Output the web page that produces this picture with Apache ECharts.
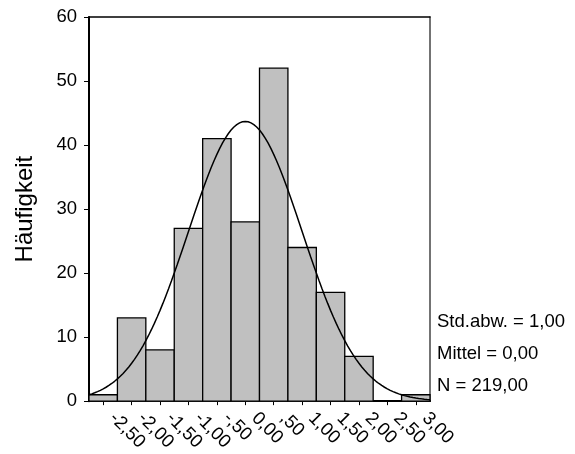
<!DOCTYPE html>
<html>
<head>
<meta charset="utf-8">
<script src="https://cdn.jsdelivr.net/npm/echarts@6/dist/echarts.min.js"></script>
<style>
  html, body { margin: 0; padding: 0; background: #fff; }
  #chart { width: 575px; height: 454px; }
</style>
</head>
<body>
<div id="chart"></div>
<script>
// Histogram bins (centre of each 0.5-wide class) and their frequencies
const binCenters = [-2.5, -2.0, -1.5, -1.0, -0.5, 0.0, 0.5, 1.0, 1.5, 2.0, 2.5, 3.0];
const counts = [1, 13, 8, 27, 41, 28, 52, 24, 17, 7, 0, 1];
const tickLabels = ['-2,50', '-2,00', '-1,50', '-1,00', '-,50', '0,00', ',50', '1,00', '1,50', '2,00', '2,50', '3,00'];
const yTicks = [0, 10, 20, 30, 40, 50, 60];

// Summary statistics shown beside the plot
const stdDev = 1.0;
const mean = 0.0;
const total = 219;
const binWidth = 0.5;

const xMin = binCenters[0] - binWidth / 2;
const xMax = binCenters[binCenters.length - 1] + binWidth / 2;

// Fitted normal curve scaled to frequencies, from the stated mean / std / N
const curve = [];
for (let i = 0; i <= 120; i++) {
  const x = xMin + (xMax - xMin) * i / 120;
  const z = (x - mean) / stdDev;
  const dens = Math.exp(-0.5 * z * z) / (stdDev * Math.sqrt(2 * Math.PI));
  curve.push([x, total * binWidth * dens]);
}

const fmt = v => v.toFixed(2).replace('.', ',');
const FONT = "'Liberation Sans', Arial, sans-serif";

const chart = echarts.init(document.getElementById('chart'), null, { renderer: 'canvas' });

chart.setOption({
  animation: false,
  backgroundColor: '#ffffff',
  grid: { left: 89, right: 145, top: 17, bottom: 51, containLabel: false },
  xAxis: [
    {
      type: 'value',
      min: xMin,
      max: xMax,
      splitLine: { show: false },
      axisLine: { show: true, onZero: false, lineStyle: { color: '#000', width: 2 } },
      axisTick: { show: true, length: 4, lineStyle: { color: '#000', width: 1 }, customValues: binCenters },
      axisLabel: {
        customValues: binCenters,
        rotate: -45,
        margin: 5,
        padding: [0, 0, 0, 13],
        fontFamily: FONT,
        fontSize: 18.5,
        color: '#000',
        formatter: v => tickLabels[binCenters.indexOf(v)]
      }
    },
    {
      type: 'value',
      position: 'top',
      min: xMin,
      max: xMax,
      splitLine: { show: false },
      axisLine: { show: true, onZero: false, lineStyle: { color: '#000', width: 1.5 } },
      axisTick: { show: false },
      axisLabel: { show: false }
    }
  ],
  yAxis: [
    {
      type: 'value',
      min: yTicks[0],
      max: yTicks[yTicks.length - 1],
      interval: 10,
      name: 'Häufigkeit',
      nameLocation: 'middle',
      nameGap: 52,
      nameRotate: 90,
      nameTextStyle: { fontFamily: FONT, fontSize: 24, color: '#000' },
      splitLine: { show: false },
      axisLine: { show: true, onZero: false, lineStyle: { color: '#000', width: 2 } },
      axisTick: { show: true, length: 5, lineStyle: { color: '#000', width: 1 } },
      axisLabel: { margin: 12, fontFamily: FONT, fontSize: 18.5, color: '#000' }
    },
    {
      type: 'value',
      position: 'right',
      min: yTicks[0],
      max: yTicks[yTicks.length - 1],
      splitLine: { show: false },
      axisLine: { show: true, onZero: false, lineStyle: { color: '#444', width: 1.5 } },
      axisTick: { show: false },
      axisLabel: { show: false }
    }
  ],
  series: [
    {
      type: 'custom',
      xAxisIndex: 0,
      yAxisIndex: 0,
      data: binCenters.map((c, i) => [c, counts[i]]),
      renderItem: (params, api) => {
        const c = api.value(0);
        const v = api.value(1);
        const p0 = api.coord([c - binWidth / 2, v]);
        const p1 = api.coord([c + binWidth / 2, 0]);
        return {
          type: 'rect',
          shape: { x: p0[0], y: p0[1], width: p1[0] - p0[0], height: p1[1] - p0[1] },
          style: { fill: '#c0c0c0', stroke: '#000', lineWidth: 1.3 }
        };
      }
    },
    {
      type: 'line',
      xAxisIndex: 0,
      yAxisIndex: 0,
      data: curve,
      showSymbol: false,
      smooth: false,
      lineStyle: { color: '#000', width: 1.5 },
      z: 5
    }
  ],
  graphic: [
    { type: 'text', left: 437, top: 312, style: { text: 'Std.abw. = ' + fmt(stdDev), font: '18.5px ' + FONT, fill: '#000' } },
    { type: 'text', left: 437, top: 344, style: { text: 'Mittel = ' + fmt(mean), font: '18.5px ' + FONT, fill: '#000' } },
    { type: 'text', left: 437, top: 376, style: { text: 'N = ' + fmt(total), font: '18.5px ' + FONT, fill: '#000' } }
  ]
});
</script>
</body>
</html>
